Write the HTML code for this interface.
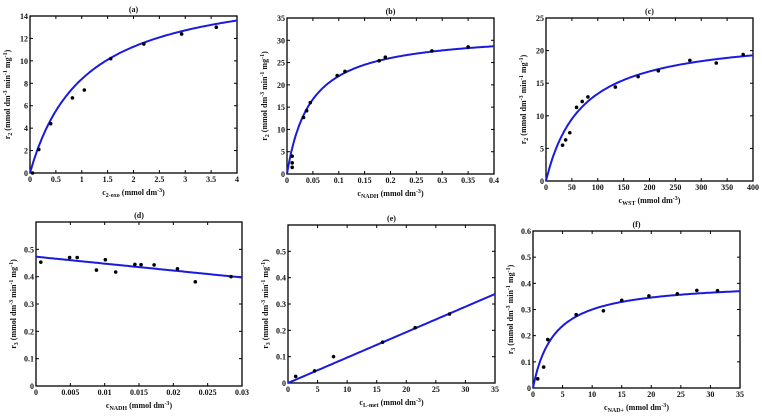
<!DOCTYPE html>
<html><head><meta charset="utf-8"><style>
body{margin:0;background:#fff;width:762px;height:416px;overflow:hidden}
svg{display:block}
text{font-family:"Liberation Serif",serif;font-weight:bold;fill:#111}
</style></head><body>
<svg id="s" width="762" height="416" xmlns="http://www.w3.org/2000/svg"></svg>
<script>
const S=document.getElementById('s');let h='';
function P(o){
 const {L,R,T,B,x0,x1,y0,y1,xt,yt,xl,yl,f,pts,title,xlab,ylab}=o;
 const X=v=>L+(v-x0)/(x1-x0)*(R-L), Y=v=>B-(v-y0)/(y1-y0)*(B-T);
 h+=`<rect x="${L}" y="${T}" width="${R-L}" height="${B-T}" fill="none" stroke="#000" stroke-width="1.3"/>`;
 xt.forEach((v,i)=>{const x=X(v);h+=`<line x1="${x}" y1="${B}" x2="${x}" y2="${B-3}" stroke="#000"/><line x1="${x}" y1="${T}" x2="${x}" y2="${T+3}" stroke="#000"/><text x="${x}" y="${B+9}" font-size="8" text-anchor="middle">${xl[i]}</text>`});
 yt.forEach((v,i)=>{const y=Y(v);h+=`<line x1="${L}" y1="${y}" x2="${L+3}" y2="${y}" stroke="#000"/><line x1="${R}" y1="${y}" x2="${R-3}" y2="${y}" stroke="#000"/><text x="${L-2}" y="${y+3}" font-size="8" text-anchor="end">${yl[i]}</text>`});
 let d='';for(let i=0;i<=200;i++){const v=x0+(x1-x0)*i/200;d+=(i?'L':'M')+X(v).toFixed(1)+','+Y(f(v)).toFixed(1)}
 h+=`<path d="${d}" fill="none" stroke="#1a1adf" stroke-width="2"/>`;
 pts.forEach(p=>{h+=`<circle cx="${X(p[0])}" cy="${Y(p[1])}" r="1.8" fill="#000"/>`});
 h+=`<text x="${(L+R)/2}" y="${T-4}" font-size="8" text-anchor="middle">${title}</text>`;
 h+=`<text x="${(L+R)/2}" y="${B+22}" font-size="8" text-anchor="middle">${xlab}</text>`;
 h+=`<text transform="translate(${L-20},${(T+B)/2}) rotate(-90)" font-size="8" text-anchor="middle">${ylab}</text>`;
}
const r=(a,b,n,fn)=>{let t=[];for(let v=a;v<=b+1e-9;v+=n)t.push(+v.toFixed(4));return t};
const Y2='r<tspan font-size="6" dy="2">2</tspan><tspan dy="-2"> (mmol dm</tspan><tspan font-size="6" dy="-3">-3</tspan><tspan dy="3"> min</tspan><tspan font-size="6" dy="-3">-1</tspan><tspan dy="3"> mg</tspan><tspan font-size="6" dy="-3">-1</tspan><tspan dy="3">)</tspan>';
const Y3=Y2.replace('>2<','>3<');
const xl=(s)=>`c<tspan font-size="6" dy="2">${s}</tspan><tspan dy="-2"> (mmol dm</tspan><tspan font-size="6" dy="-3">-3</tspan><tspan dy="3">)</tspan>`;
let t;
t=r(0,4,0.5);P({L:30,R:237,T:16,B:173,x0:0,x1:4,y0:0,y1:14,xt:t,xl:t,yt:r(0,14,2),yl:r(0,14,2),f:v=>17.17*v/(1.05+v),
 pts:[[0.05,0],[0.17,2.1],[0.4,4.4],[0.82,6.7],[1.05,7.4],[1.56,10.2],[2.2,11.5],[2.93,12.4],[3.6,13]],title:'(a)',xlab:xl('2-oxo'),ylab:Y2});
t=r(0,0.4,0.05);P({L:287,R:494,T:18,B:174,x0:0,x1:0.4,y0:0,y1:35,xt:t,xl:t,yt:r(0,35,5),yl:r(0,35,5),f:v=>31.9*v/(0.0452+v),
 pts:[[0.01,1.5],[0.01,2.5],[0.01,4],[0.032,12.7],[0.038,14.2],[0.045,16],[0.097,22.1],[0.112,23],[0.178,25.4],[0.19,26.2],[0.28,27.6],[0.35,28.5]],title:'(b)',xlab:xl('NADH'),ylab:Y2});
t=r(0,400,50);P({L:546,R:753,T:18,B:181,x0:0,x1:400,y0:0,y1:25,xt:t,xl:t,yt:r(0,25,5),yl:r(0,25,5),f:v=>22.6*v/(68.9+v),
 pts:[[32,5.5],[38,6.3],[46,7.4],[59,11.3],[70,12.2],[81,12.9],[134,14.4],[178,16],[217,16.9],[278,18.5],[329,18.1],[381,19.4]],title:'(c)',xlab:xl('WST'),ylab:Y2});
t=r(0,0.03,0.005);P({L:36,R:242,T:222,B:386,x0:0,x1:0.03,y0:0,y1:0.6,xt:t,xl:t,yt:r(0,0.5,0.1),yl:r(0,0.5,0.1),f:v=>0.473-2.53*v,
 pts:[[0.0007,0.453],[0.0049,0.47],[0.006,0.47],[0.0088,0.424],[0.0101,0.462],[0.0116,0.417],[0.0144,0.445],[0.0153,0.444],[0.0172,0.443],[0.0206,0.429],[0.0232,0.381],[0.0284,0.4]],title:'(d)',xlab:xl('NADH'),ylab:Y3});
t=r(0,35,5);P({L:288,R:495,T:225,B:383,x0:0,x1:35,y0:0,y1:0.6,xt:t,xl:t,yt:r(0,0.5,0.1),yl:r(0,0.5,0.1),f:v=>0.338*v/35,
 pts:[[1.3,0.025],[4.5,0.046],[7.7,0.1],[16,0.155],[21.5,0.21],[27.3,0.262]],title:'(e)',xlab:xl('L-met'),ylab:Y3});
P({L:533,R:740,T:231,B:388,x0:0,x1:35,y0:0,y1:0.6,xt:t,xl:t,yt:r(0,0.6,0.1),yl:r(0,0.6,0.1),f:v=>0.408*v/(3.6+v),
 pts:[[0.8,0.035],[1.8,0.08],[2.5,0.185],[7.3,0.28],[11.9,0.295],[15,0.335],[19.6,0.352],[24.4,0.36],[27.7,0.373],[31.2,0.372]],title:'(f)',xlab:xl('NAD+'),ylab:Y3});
S.innerHTML=h;
</script>
</body></html>
